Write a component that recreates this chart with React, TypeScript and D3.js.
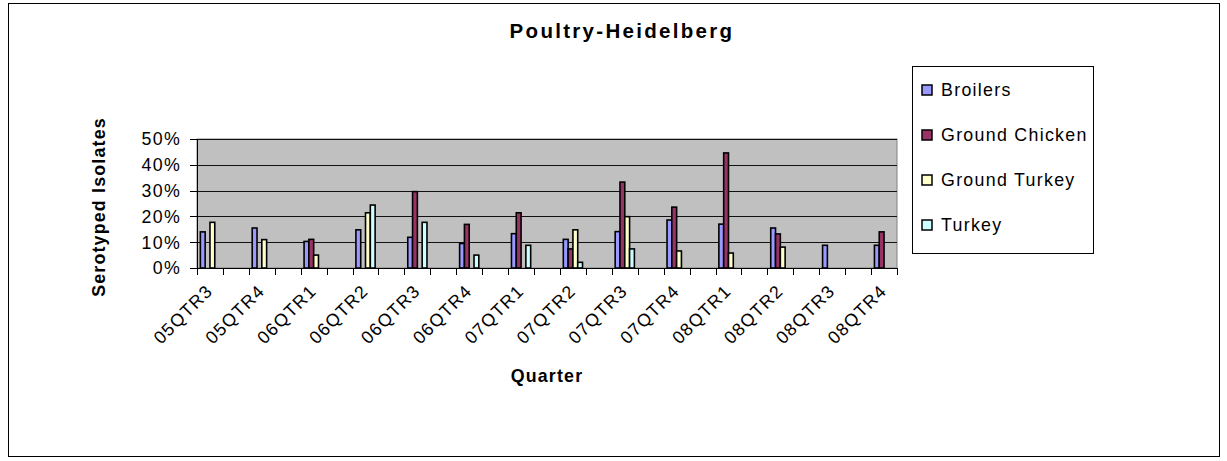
import React from "react";
import * as d3 from "d3";

const quarters = ["05QTR3", "05QTR4", "06QTR1", "06QTR2", "06QTR3", "06QTR4", "07QTR1", "07QTR2", "07QTR3", "07QTR4", "08QTR1", "08QTR2", "08QTR3", "08QTR4"];
const seriesNames = ["Broilers", "Ground Chicken", "Ground Turkey", "Turkey"];
const seriesColors = ["#9999FF", "#993366", "#FFFFCC", "#CCFFFF"];
const broilers = [0.14, 0.155, 0.103, 0.148, 0.119, 0.095, 0.133, 0.111, 0.141, 0.186, 0.17, 0.155, 0.088, 0.088];
const groundChicken = [0, 0, 0.111, 0, 0.296, 0.169, 0.214, 0.074, 0.333, 0.236, 0.446, 0.132, 0, 0.14];
const groundTurkey = [0.177, 0.11, 0.05, 0.214, 0, 0, 0, 0.148, 0.199, 0.066, 0.058, 0.081, 0, 0];
const turkey = [0, 0, 0, 0.244, 0.177, 0.05, 0.088, 0.022, 0.074, 0, 0, 0, 0, 0];
const yTicks = [0, 0.1, 0.2, 0.3, 0.4, 0.5];

const seriesValues = [broilers, groundChicken, groundTurkey, turkey];

export default function App() {
  const W = 1227, H = 461;
  const plot = { left: 197, right: 897, top: 139, bottom: 268 };
  const nSlots = quarters.length * 2 - 1;
  const x = d3.scaleBand<number>().domain(d3.range(nSlots)).range([plot.left, plot.right]).paddingInner(0).paddingOuter(0);
  const xi = d3.scaleBand<string>().domain(seriesNames).range([0, x.bandwidth()]).paddingInner(0).paddingOuter(0.7);
  const y = d3.scaleLinear().domain([0, 0.5]).range([plot.bottom, plot.top]);
  const fmt = d3.format(".0%");
  const font = "'Liberation Sans', Arial, sans-serif";
  const ls = 1.3;

  const tickXs = d3.range(nSlots + 1).map((i) => plot.left + i * x.step());

  return (
    <svg width={W} height={H} style={{ position: "absolute", left: 0, top: 0, background: "#fff" }} fontFamily={font}>
      <rect x={8.5} y={3.5} width={1211} height={453} fill="#fff" stroke="#000" strokeWidth={1} />
      <text x={622} y={38} textAnchor="middle" fontWeight="bold" fontSize={20.5} letterSpacing={2.3}>Poultry-Heidelberg</text>

      <rect x={plot.left} y={plot.top} width={plot.right - plot.left} height={plot.bottom - plot.top} fill="#C0C0C0" stroke="#808080" strokeWidth={1} />
      {yTicks.slice(1).map((t) => (
        <line key={t} x1={plot.left} x2={plot.right} y1={Math.round(y(t)) + 0.5} y2={Math.round(y(t)) + 0.5} stroke="#111" strokeWidth={1} />
      ))}

      {quarters.map((q, qi) =>
        seriesValues.map((vals, si) => {
          const v = vals[qi];
          if (!v) return null;
          const bx = (x(qi * 2) as number) + (xi(seriesNames[si]) as number);
          return (
            <rect key={q + si} x={bx} y={y(v)} width={xi.bandwidth()} height={y(0) - y(v)} fill={seriesColors[si]} stroke="#000" strokeWidth={1.6} />
          );
        })
      )}

      <line x1={plot.left + 0.5} x2={plot.left + 0.5} y1={plot.top} y2={plot.bottom} stroke="#000" strokeWidth={1} />
      <line x1={plot.left} x2={plot.right} y1={plot.bottom + 0.5} y2={plot.bottom + 0.5} stroke="#000" strokeWidth={1} />
      {yTicks.map((t) => (
        <g key={t}>
          <line x1={plot.left - 7} x2={plot.left} y1={Math.round(y(t)) + 0.5} y2={Math.round(y(t)) + 0.5} stroke="#000" />
          <text x={181} y={y(t)} dy="0.36em" textAnchor="end" fontSize={17.8} letterSpacing={ls}>{fmt(t)}</text>
        </g>
      ))}
      {tickXs.map((tx, i) => (
        <line key={i} x1={Math.round(tx) + 0.5} x2={Math.round(tx) + 0.5} y1={plot.bottom} y2={plot.bottom + 7} stroke="#000" />
      ))}
      {quarters.map((q, qi) => {
        const cx = (x(qi * 2) as number) + x.bandwidth() / 2 + 4;
        const cy = plot.bottom + 24;
        return (
          <text key={q} x={cx} y={cy} textAnchor="end" fontSize={17.8} letterSpacing={ls} transform={`rotate(-45 ${cx} ${cy})`}>{q}</text>
        );
      })}
      <text x={(plot.left + plot.right) / 2} y={382} textAnchor="middle" fontWeight="bold" fontSize={17.8} letterSpacing={1.2}>Quarter</text>
      <text x={0} y={0} transform={`translate(105 207) rotate(-90)`} textAnchor="middle" fontWeight="bold" fontSize={17.8} letterSpacing={1.2}>Serotyped Isolates</text>

      <rect x={912.5} y={66.5} width={181} height={187} fill="#fff" stroke="#000" strokeWidth={1} />
      {seriesNames.map((s, i) => {
        const cy = 90 + i * 45;
        return (
          <g key={s}>
            <rect x={922} y={cy - 5} width={10} height={10} fill={seriesColors[i]} stroke="#000" strokeWidth={1.5} />
            <text x={941} y={cy} dy="0.36em" fontSize={17.8} letterSpacing={ls}>{s}</text>
          </g>
        );
      })}
    </svg>
  );
}
